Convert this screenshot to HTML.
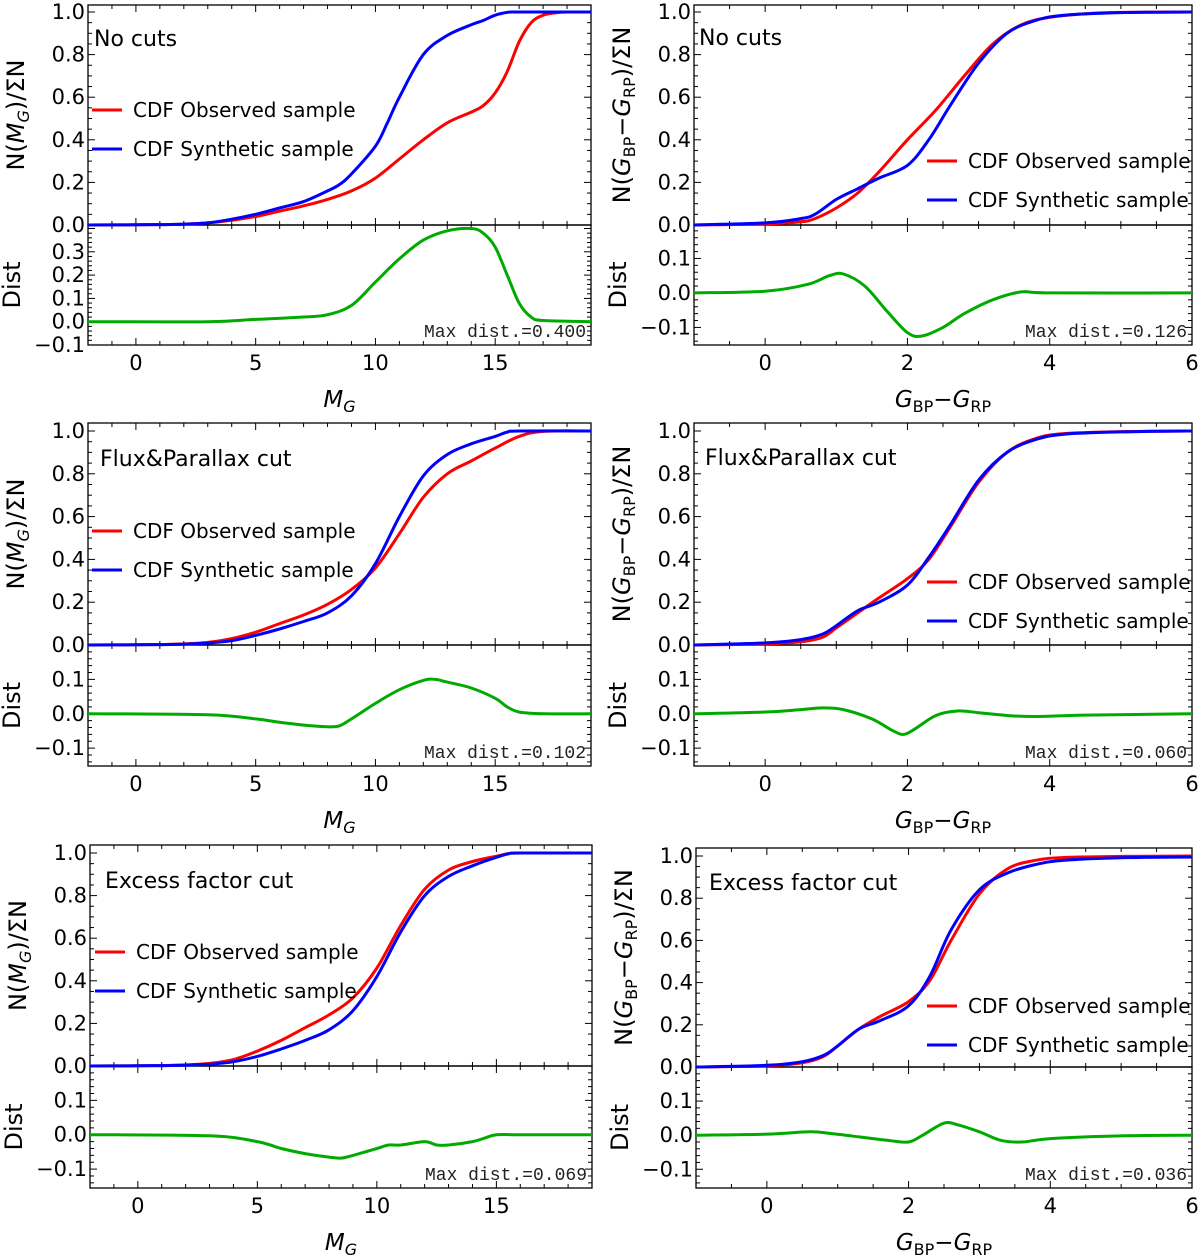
<!DOCTYPE html>
<html><head><meta charset="utf-8">
<style>
html,body{margin:0;padding:0;background:#fff;}
svg{display:block;font-family:"DejaVu Sans","Liberation Sans",sans-serif;}
</style></head>
<body>
<svg id="fig" width="1200" height="1255" viewBox="0 0 1200 1255" xmlns="http://www.w3.org/2000/svg"></svg>
<script>
// ---------- Data ----------
// Panel 1: No cuts, M_G
const p1_obs_x=[-2,0,1,2,3,4,5,6,7,8,9,10,11,12,13,14,14.5,15,15.5,16,16.5,17,17.5,18,19];
const p1_obs_y=[0,0.001,0.002,0.004,0.01,0.022,0.04,0.065,0.09,0.12,0.16,0.22,0.31,0.40,0.48,0.53,0.56,0.62,0.72,0.86,0.95,0.985,0.996,1,1];
const p1_syn_x=[-2,0,1,2,3,4,5,6,7,8,8.5,9,10,10.5,11,12,13,14,14.5,15,15.5,16,19];
const p1_syn_y=[0,0.001,0.002,0.004,0.01,0.027,0.05,0.08,0.11,0.16,0.19,0.24,0.37,0.48,0.6,0.8,0.89,0.94,0.96,0.985,0.998,1,1];
const p1_dist_x=[-2,3,5,7,8,9,10,11,12,13,14,14.5,15,15.5,16,16.5,17,19];
const p1_dist_y=[0,0,0.01,0.02,0.03,0.07,0.17,0.27,0.35,0.39,0.40,0.38,0.32,0.2,0.08,0.02,0.005,0];
// Panel 2: No cuts, colour
const p2_obs_x=[-1,0,0.5,0.7,1,1.3,1.6,2,2.4,2.8,3.2,3.6,4,4.5,5,6];
const p2_obs_y=[0,0.005,0.015,0.03,0.08,0.15,0.25,0.40,0.54,0.70,0.85,0.94,0.975,0.992,0.998,1];
const p2_syn_x=[-1,0,0.5,0.7,1,1.3,1.6,2,2.3,2.6,3,3.4,3.8,4.2,5,6];
const p2_syn_y=[0,0.01,0.03,0.05,0.12,0.17,0.22,0.28,0.40,0.56,0.76,0.90,0.96,0.985,0.997,1];
const p2_dist_x=[-1,0,0.6,0.9,1.1,1.4,1.7,2,2.2,2.5,2.8,3.2,3.6,4,6];
const p2_dist_y=[0,0.005,0.025,0.05,0.055,0.02,-0.05,-0.115,-0.125,-0.1,-0.06,-0.02,0.003,0,0];
// Panel 3: Flux&Parallax, M_G
const p3_obs_x=[-2,0,1,2,3,4,5,6,7,8,9,10,11,12,13,14,15,16,17,19];
const p3_obs_y=[0,0.001,0.002,0.005,0.012,0.03,0.06,0.10,0.14,0.19,0.26,0.36,0.52,0.69,0.80,0.86,0.92,0.975,0.998,1];
const p3_syn_x=[-2,0,1,2,3,4,5,6,7,8,9,10,11,12,13,14,15,15.5,16,19];
const p3_syn_y=[0,0.001,0.002,0.004,0.009,0.02,0.045,0.075,0.11,0.15,0.23,0.38,0.60,0.79,0.89,0.94,0.975,0.995,1,1];
const p3_dist_x=[-2,3,5,6,7,8,8.5,9,10,11,12,12.5,13,14,15,15.5,16,17,19];
const p3_dist_y=[0,-0.003,-0.015,-0.025,-0.033,-0.038,-0.035,-0.015,0.03,0.07,0.097,0.1,0.092,0.075,0.045,0.02,0.005,0,0];
// Panel 4: Flux&Parallax, colour
const p4_obs_x=[-1,0,0.5,0.8,1,1.3,1.6,2,2.3,2.6,3,3.4,3.8,4.2,5,6];
const p4_obs_y=[0,0.005,0.015,0.035,0.08,0.15,0.22,0.31,0.40,0.55,0.76,0.90,0.965,0.988,0.997,1];
const p4_syn_x=[-1,0,0.5,0.8,1,1.3,1.6,2,2.3,2.6,3,3.4,3.8,4.2,5,6];
const p4_syn_y=[0,0.01,0.025,0.05,0.09,0.16,0.20,0.28,0.41,0.56,0.77,0.90,0.96,0.985,0.996,1];
const p4_dist_x=[-1,0,0.5,0.8,1.1,1.5,1.8,1.95,2.1,2.4,2.7,3,3.4,3.8,4.5,6];
const p4_dist_y=[0,0.005,0.012,0.017,0.012,-0.015,-0.05,-0.06,-0.045,-0.005,0.008,0.003,-0.005,-0.008,-0.004,0];
// Panel 5: Excess factor, M_G
const p5_obs_x=[-2,0,1,2,3,4,5,6,7,8,9,10,11,12,13,14,15,15.5,16,19];
const p5_obs_y=[0,0.001,0.002,0.005,0.012,0.03,0.07,0.12,0.18,0.24,0.32,0.46,0.66,0.83,0.92,0.96,0.985,0.997,1,1];
const p5_syn_x=[-2,0,1,2,3,4,5,6,7,8,9,10,11,12,13,14,15,15.5,16,19];
const p5_syn_y=[0,0.001,0.002,0.004,0.008,0.02,0.045,0.08,0.12,0.17,0.26,0.42,0.63,0.80,0.89,0.94,0.98,0.996,1,1];
const p5_dist_x=[-2,3,5,6,7,8,8.5,9,10,10.5,11,12,12.5,13,14,14.5,15,16,19];
const p5_dist_y=[0,-0.003,-0.02,-0.04,-0.055,-0.065,-0.068,-0.06,-0.04,-0.03,-0.03,-0.02,-0.03,-0.03,-0.02,-0.01,0,0,0];
// Panel 6: Excess factor, colour
const p6_obs_x=[-1,0,0.5,0.8,1,1.3,1.6,2,2.3,2.6,3,3.4,3.8,4.2,5,6];
const p6_obs_y=[0,0.005,0.02,0.05,0.10,0.18,0.24,0.31,0.41,0.60,0.82,0.94,0.98,0.993,0.998,1];
const p6_syn_x=[-1,0,0.5,0.8,1,1.3,1.6,2,2.3,2.6,3,3.4,3.8,4.2,5,6];
const p6_syn_y=[0,0.008,0.025,0.055,0.10,0.18,0.22,0.29,0.43,0.65,0.84,0.92,0.96,0.98,0.992,0.995];
const p6_dist_x=[-1,0,0.6,0.9,1.3,1.7,2,2.2,2.5,2.7,3,3.3,3.6,4,5,6];
const p6_dist_y=[0,0.003,0.01,0.005,-0.005,-0.015,-0.02,0,0.035,0.03,0.01,-0.015,-0.02,-0.01,-0.002,0];
const maxDist=["0.400","0.126","0.102","0.060","0.069","0.036"];
const titles=["No cuts","No cuts","Flux&Parallax cut","Flux&Parallax cut","Excess factor cut","Excess factor cut"];
const magTicks=[0,5,10,15];
const colTicks=[0,2,4,6];
const cdfTicks=[0,0.2,0.4,0.6,0.8,1.0];
const distTicksA=[-0.1,0,0.1,0.2,0.3];
const distTicksB=[-0.1,0,0.1];

// ---------- Layout ----------
const NS="http://www.w3.org/2000/svg";
const svg=document.getElementById('fig');
function el(tag,attrs,parent,text){const e=document.createElementNS(NS,tag);for(const k in attrs)e.setAttribute(k,attrs[k]);if(text!==undefined)e.textContent=text;(parent||svg).appendChild(e);return e;}

const panels=[
 {x0:88,x1:591,xmin:-2,xmax:19,yTop:5,y0:225,y1:12,dBot:345,dmin:-0.1,dmax:0.415,dT:distTicksA,xt:magTicks,minor:1,
  obs:[p1_obs_x,p1_obs_y],syn:[p1_syn_x,p1_syn_y],dist:[p1_dist_x,p1_dist_y],leg:[92,110],titleX:94,titleY:46,mag:true},
 {x0:694,x1:1192,xmin:-1,xmax:6,yTop:5,y0:225,y1:12,dBot:345,dmin:-0.151,dmax:0.197,dT:distTicksB,xt:colTicks,minor:0.5,
  obs:[p2_obs_x,p2_obs_y],syn:[p2_syn_x,p2_syn_y],dist:[p2_dist_x,p2_dist_y],leg:[927,161],titleX:699,titleY:45,mag:false},
 {x0:88,x1:591,xmin:-2,xmax:19,yTop:423,y0:645,y1:431,dBot:766,dmin:-0.152,dmax:0.2,dT:distTicksB,xt:magTicks,minor:1,
  obs:[p3_obs_x,p3_obs_y],syn:[p3_syn_x,p3_syn_y],dist:[p3_dist_x,p3_dist_y],leg:[92,531],titleX:100,titleY:466,mag:true},
 {x0:694,x1:1192,xmin:-1,xmax:6,yTop:423,y0:645,y1:431,dBot:766,dmin:-0.152,dmax:0.2,dT:distTicksB,xt:colTicks,minor:0.5,
  obs:[p4_obs_x,p4_obs_y],syn:[p4_syn_x,p4_syn_y],dist:[p4_dist_x,p4_dist_y],leg:[927,582],titleX:705,titleY:465,mag:false},
 {x0:90,x1:592,xmin:-2,xmax:19,yTop:845,y0:1066,y1:853,dBot:1188,dmin:-0.155,dmax:0.2,dT:distTicksB,xt:magTicks,minor:1,
  obs:[p5_obs_x,p5_obs_y],syn:[p5_syn_x,p5_syn_y],dist:[p5_dist_x,p5_dist_y],leg:[95,952],titleX:105,titleY:888,mag:true},
 {x0:696,x1:1192,xmin:-1,xmax:6,yTop:848,y0:1067,y1:856,dBot:1188,dmin:-0.155,dmax:0.2,dT:distTicksB,xt:colTicks,minor:0.5,
  obs:[p6_obs_x,p6_obs_y],syn:[p6_syn_x,p6_syn_y],dist:[p6_dist_x,p6_dist_y],leg:[927,1006],titleX:709,titleY:890,mag:false}
];

function smoothPath(pts){
  let d="M"+pts[0][0].toFixed(1)+","+pts[0][1].toFixed(1);
  for(let i=0;i<pts.length-1;i++){
    const p0=pts[Math.max(0,i-1)],p1=pts[i],p2=pts[i+1],p3=pts[Math.min(pts.length-1,i+2)];
    const c1=[p1[0]+(p2[0]-p0[0])/6,p1[1]+(p2[1]-p0[1])/6];
    const c2=[p2[0]-(p3[0]-p1[0])/6,p2[1]-(p3[1]-p1[1])/6];
    d+=" C"+c1[0].toFixed(1)+","+c1[1].toFixed(1)+" "+c2[0].toFixed(1)+","+c2[1].toFixed(1)+" "+p2[0].toFixed(1)+","+p2[1].toFixed(1);
  }
  return d;
}

panels.forEach((P,i)=>{
  const g=el('g',{});
  
  
  const sx=v=>P.x0+(v-P.xmin)/(P.xmax-P.xmin)*(P.x1-P.x0);
  const sy=v=>P.y0+(P.y1-P.y0)*v;
  const sd=v=>P.dBot-(v-P.dmin)/(P.dmax-P.dmin)*(P.dBot-P.y0);
  for(let v=Math.ceil(P.xmin/P.minor)*P.minor;v<=P.xmax+1e-9;v+=P.minor){
    const major=P.xt.some(t=>Math.abs(t-v)<1e-9);const L=major?7:4;const X=sx(v);
    [[P.yTop,1],[P.y0,-1],[P.y0,1],[P.dBot,-1]].forEach(([yy,dir])=>{
      el('line',{x1:X,x2:X,y1:yy,y2:yy+dir*L,stroke:'#000','stroke-width':1},g);
    });
  }
  P.xt.forEach(v=>{
    const t=el('text',{x:sx(v),y:P.dBot+25,'text-anchor':'middle','font-size':21},g,String(v));
    
    
  });
  for(let k=0;k<=21;k++){const v=k*0.05;const Y=sy(v);if(Y<P.yTop)break;const L=(k%4===0)?7:4;
    el('line',{x1:P.x0,x2:P.x0+L,y1:Y,y2:Y,stroke:'#000'},g);el('line',{x1:P.x1,x2:P.x1-L,y1:Y,y2:Y,stroke:'#000'},g);}
  cdfTicks.forEach(v=>{
    const t=el('text',{x:P.x0-3,y:sy(v)+7,'text-anchor':'end','font-size':21},g,v.toFixed(1));
    
    
  });
  for(let k=-8;k<=22;k++){const v=k*0.02;if(v<P.dmin-1e-9||v>P.dmax)continue;const Y=sd(v);const L=(k%5===0)?7:4;
    el('line',{x1:P.x0,x2:P.x0+L,y1:Y,y2:Y,stroke:'#000'},g);el('line',{x1:P.x1,x2:P.x1-L,y1:Y,y2:Y,stroke:'#000'},g);}
  P.dT.forEach(v=>{
    const t=el('text',{x:P.x0-3,y:sd(v)+7,'text-anchor':'end','font-size':21},g,(v<0?'\u2212':'')+Math.abs(v).toFixed(1));
    
    
  });
  el('rect',{x:P.x0,y:P.yTop,width:P.x1-P.x0,height:P.y0-P.yTop,fill:'none',stroke:'#000','stroke-width':1.3},g);
  el('rect',{x:P.x0,y:P.y0,width:P.x1-P.x0,height:P.dBot-P.y0,fill:'none',stroke:'#000','stroke-width':1.3},g);
  const obs=el('path',{d:smoothPath(P.obs[0].map((x,j)=>[sx(x),sy(P.obs[1][j])])),fill:'none',stroke:'#ff0000','stroke-width':3},g);
  
  
  const syn=el('path',{d:smoothPath(P.syn[0].map((x,j)=>[sx(x),sy(P.syn[1][j])])),fill:'none',stroke:'#0000ff','stroke-width':3},g);
  
  
  const dl=el('path',{d:smoothPath(P.dist[0].map((x,j)=>[sx(x),sd(P.dist[1][j])])),fill:'none',stroke:'#00aa00','stroke-width':3},g);
  
  
  const [lx,ly]=P.leg;
  el('line',{x1:lx,x2:lx+30,y1:ly,y2:ly,stroke:'#ff0000','stroke-width':3},g);
  const l1=el('text',{x:lx+41,y:ly+7,'font-size':20},g,'CDF Observed sample');
  
  
  el('line',{x1:lx,x2:lx+30,y1:ly+39,y2:ly+39,stroke:'#0000ff','stroke-width':3},g);
  const l2=el('text',{x:lx+41,y:ly+46,'font-size':20},g,'CDF Synthetic sample');
  
  
  const tt=el('text',{x:P.titleX,y:P.titleY,'font-size':22},g,titles[i]);
  
  
  const md=el('text',{x:P.x1-5,y:P.dBot-8,'text-anchor':'end','font-size':18,'font-family':'"Liberation Mono","DejaVu Sans Mono",monospace',fill:'#222'},g,'Max dist.=' + maxDist[i]);
  
  
  const cx=P.x0-64;
  const cy=(P.yTop+P.y0)/2;
  const yl=el('text',{x:cx,y:cy,'text-anchor':'middle','font-size':24,transform:`rotate(-90 ${cx} ${cy})`},g);
  
  
  if(P.mag){
    yl.innerHTML='N(<tspan font-style="italic">M</tspan><tspan font-style="italic" font-size="16" dy="5">G</tspan><tspan dy="-5">)/ΣN</tspan>';
  } else {
    yl.innerHTML='N(<tspan font-style="italic">G</tspan><tspan font-size="16" dy="5">BP</tspan><tspan dy="-5">−</tspan><tspan font-style="italic">G</tspan><tspan font-size="16" dy="5">RP</tspan><tspan dy="-5">)/ΣN</tspan>';
  }
  const dx=P.x0-68, dy=(P.y0+P.dBot)/2;
  const dlab=el('text',{x:dx,y:dy,'text-anchor':'middle','font-size':24,transform:`rotate(-90 ${dx} ${dy})`},g,'Dist');
  
  
  const xcx=(P.x0+P.x1)/2, xcy=P.dBot+62;
  const xl=el('text',{x:xcx,y:xcy,'text-anchor':'middle','font-size':23},g);
  
  
  if(P.mag){
    xl.innerHTML='<tspan font-style="italic">M</tspan><tspan font-style="italic" font-size="16" dy="5">G</tspan>';
  } else {
    xl.innerHTML='<tspan font-style="italic">G</tspan><tspan font-size="16" dy="5">BP</tspan><tspan dy="-5">−</tspan><tspan font-style="italic">G</tspan><tspan font-size="16" dy="5">RP</tspan>';
  }
});
</script>
</body></html>
